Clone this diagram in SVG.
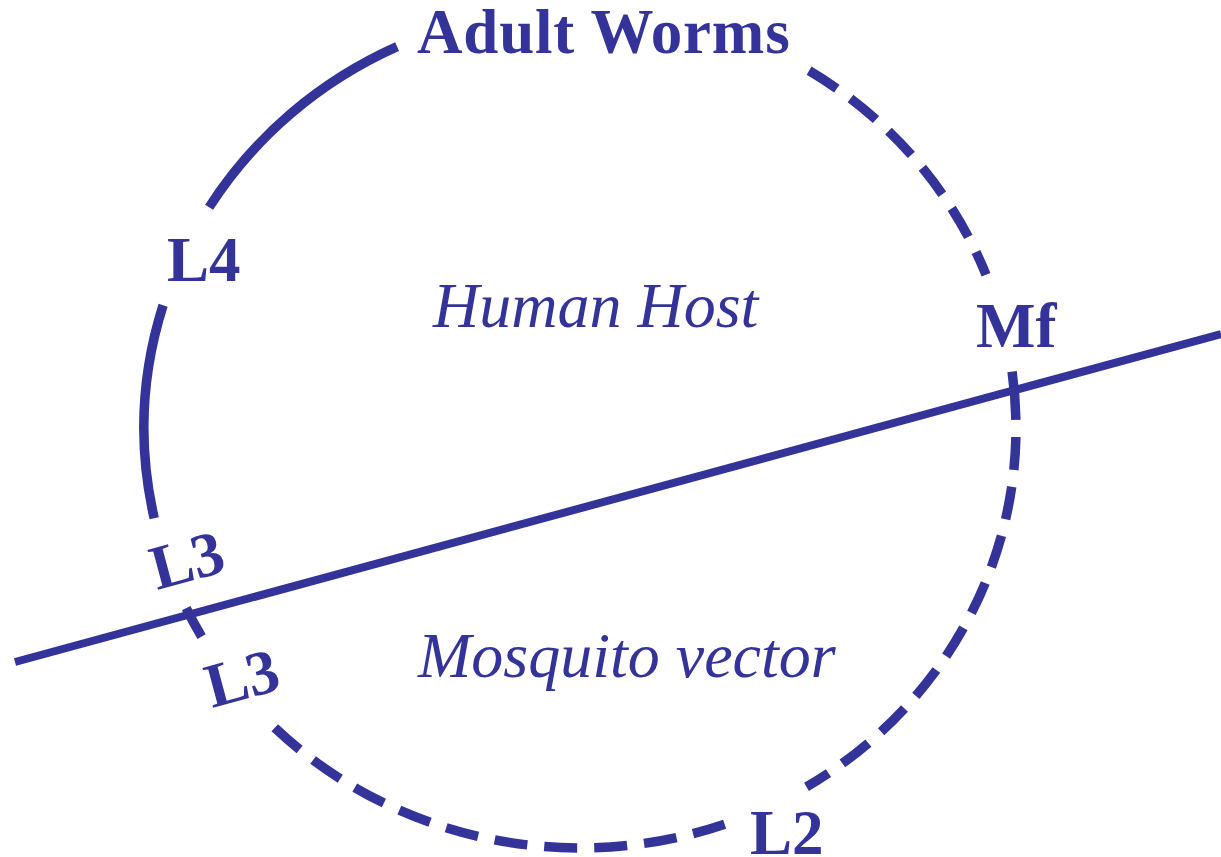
<svg xmlns="http://www.w3.org/2000/svg" width="1221" height="857" viewBox="0 0 1221 857">
<style>
.arc{fill:none;stroke:#333399;stroke-width:9.5}
.dash{stroke-dasharray:33 17}
.div{fill:none;stroke:#333399;stroke-width:8}
.lbl{font-family:"Liberation Serif","Times New Roman",serif;font-weight:bold;font-size:63px;fill:#333399}
.reg{font-family:"Liberation Serif","Times New Roman",serif;font-style:italic;font-size:64px;fill:#333399}
</style>
<rect width="1221" height="857" fill="#ffffff"/>
<g id="connectors">
<path class="arc" d="M209.1,207.3 A436,420 0 0 1 397.1,46.7"/>
<path class="arc" d="M154.2,518.2 A436,420 0 0 1 163.1,305.2"/>
<path class="arc" d="M201.6,636.7 A436,420 0 0 1 186.2,608.1"/>
<path class="arc dash" style="stroke-dashoffset:-4" d="M728.4,822.9 A436,420 0 0 1 264.3,717.6"/>
<path class="arc" d="M1012.1,371.7 A436,420 0 0 1 1015.9,419.9"/>
<path class="arc dash" d="M1015.9,437 A436,420 0 0 1 806.5,786.9"/>
<path class="arc dash" d="M809.1,70.6 A436,420 0 0 1 986,274.7"/>
<line class="div" x1="15" y1="662" x2="1221" y2="334"/>
</g>
<g id="adult-worms"><text class="lbl" x="417" y="53" letter-spacing="0.8">Adult Worms</text></g>
<g id="l4"><text class="lbl" x="167" y="281">L4</text></g>
<g id="mf"><text class="lbl" x="976" y="347">Mf</text></g>
<g id="l3-host"><text class="lbl" transform="translate(157,590) rotate(-15)">L3</text></g>
<g id="l3-vector"><text class="lbl" transform="translate(212,708) rotate(-15)">L3</text></g>
<g id="l2"><text class="lbl" x="750" y="854">L2</text></g>
<g id="human-host"><text class="reg" x="433" y="327">Human Host</text></g>
<g id="mosquito-vector"><text class="reg" x="418" y="677">Mosquito vector</text></g>
</svg>
